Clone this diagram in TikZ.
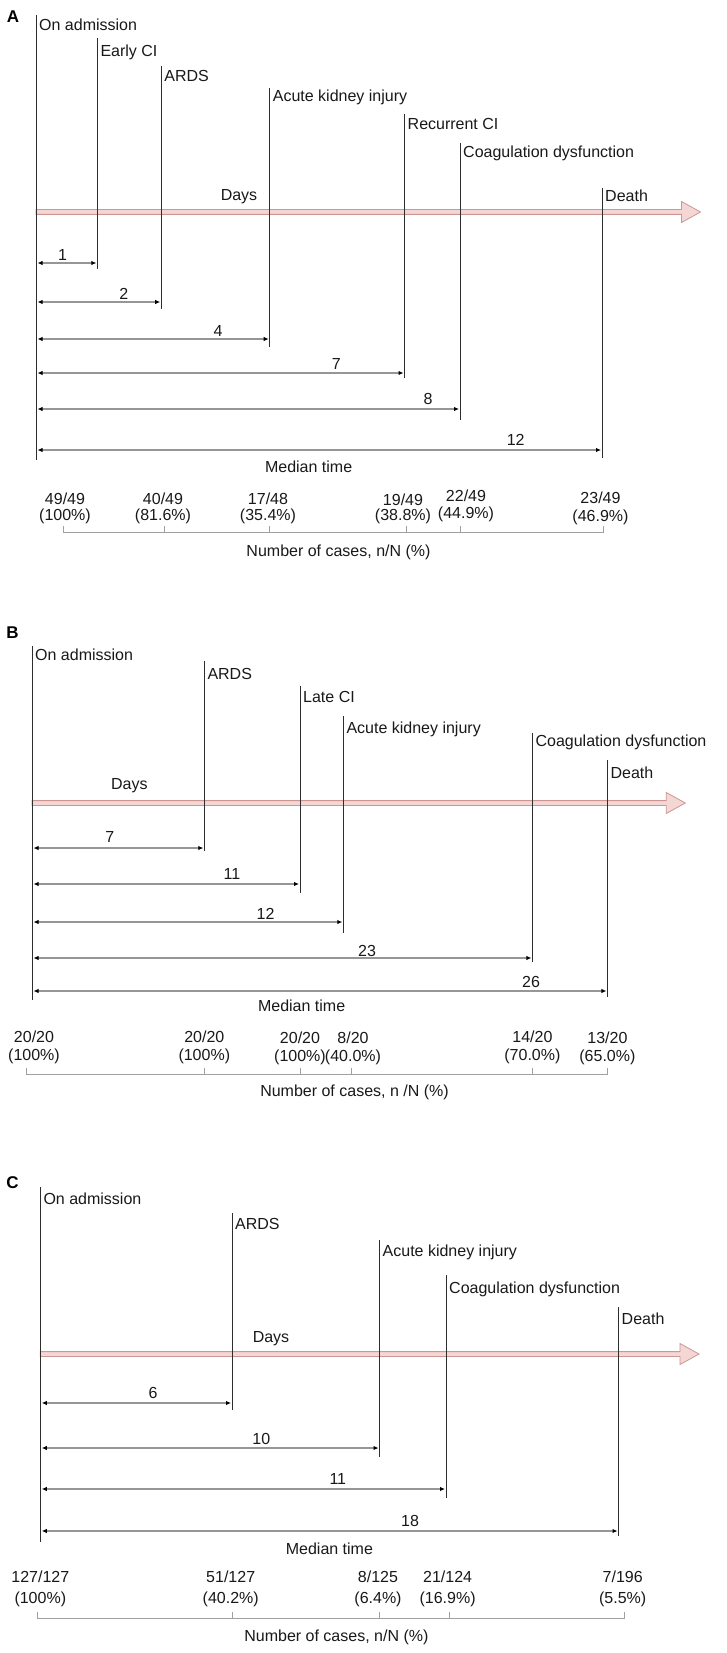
\documentclass[tikz,border=0pt]{standalone}
\usepackage{fontspec}
\setmainfont{Liberation Sans}
\usetikzlibrary{arrows.meta}
\definecolor{pinkfill}{RGB}{244,214,212}
\definecolor{pinkdraw}{RGB}{205,150,146}
\definecolor{txt}{RGB}{25,25,25}
\definecolor{mline}{RGB}{150,150,150}
\definecolor{bline}{RGB}{160,160,160}
\definecolor{eline}{RGB}{45,45,45}

\newcommand{\evt}[6]{%
  \coordinate (#1t) at (#2,#3);
  \coordinate (#1b) at (#2,#4);
  \draw[evline] (#1t) -- (#1b);
  \node[lbl,anchor=base west] (#1l) at (#2+3,#5+5.7) {#6};}
\newcommand{\msr}[7]{%
  \coordinate (#1s) at (#2+1.5,#4);
  \coordinate (#1e) at (#3-1,#4);
  \draw[meas] (#1s) -- (#1e);
  \node[lbl] (#1n) at (#5,#6) {#7};}
\newcommand{\cnt}[6]{%
  \node[lbl,anchor=base] (#1a) at (#2,#3) {#5};
  \node[lbl,anchor=base] (#1b) at (#2,#4) {#6};}
\newcommand{\pinkarr}[4]{%
  \draw[pinkarrow] (#2,#4-2.4) -- (#3-19,#4-2.4) -- (#3-19,#4-10.5) -- (#3,#4)
    -- (#3-19,#4+10.5) -- (#3-19,#4+2.4) -- (#2,#4+2.4) -- cycle;}

\begin{document}
\begin{tikzpicture}[x=1pt,y=-1pt,
  lbl/.style={inner sep=0pt,text=txt,font=\fontsize{16}{19}\selectfont},
  panel/.style={inner sep=0pt,text=black,font=\fontsize{17}{20}\selectfont\bfseries},
  evline/.style={draw=eline,line width=0.9pt},
  meas/.style={draw=mline,line width=1.2pt,{Latex[length=5pt,width=4.5pt,black]}-{Latex[length=5pt,width=4.5pt,black]}},
  brk/.style={draw=bline,line width=1pt},
  pinkarrow/.style={fill=pinkfill,draw=pinkdraw,line width=0.8pt,line join=miter}]
\useasboundingbox[fill=white] (0,0) rectangle (727,1653);

% ---------------- Panel A ----------------
\node[panel] (pA) at (13,17) {A};
\pinkarr{arrA}{36}{700.5}{212}
\evt{aAdm}{36}{15}{460}{25}{On admission}
\evt{aECI}{97.3}{38}{269}{50.5}{Early CI}
\evt{aARDS}{161.2}{66}{309}{76}{ARDS}
\evt{aAKI}{269.7}{88}{347}{96}{Acute kidney injury}
\evt{aRCI}{404.5}{114}{378}{124}{Recurrent CI}
\evt{aCoag}{460}{143}{420}{151.7}{Coagulation dysfunction}
\evt{aDeath}{602}{188}{458}{196}{Death}
\node[lbl] (aDays) at (239,197) {Days};
\msr{amA}{36}{97.3}{263}{62.5}{255}{1}
\msr{amB}{36}{161.2}{302}{123.7}{294}{2}
\msr{amC}{36}{269.7}{339}{218}{331}{4}
\msr{amD}{36}{404.5}{373}{336.4}{364}{7}
\msr{amE}{36}{460}{409}{428}{399}{8}
\msr{amF}{36}{602}{450}{515.7}{440}{12}
\node[lbl] (aMed) at (308.6,467) {Median time};
\cnt{acA}{65}{504}{520}{49/49}{(100\%)}
\cnt{acB}{163}{504}{520}{40/49}{(81.6\%)}
\cnt{acC}{268}{504}{520}{17/48}{(35.4\%)}
\cnt{acD}{403}{505}{520.5}{19/49}{(38.8\%)}
\cnt{acE}{466}{501.5}{518}{22/49}{(44.9\%)}
\cnt{acF}{600.5}{503.5}{521.5}{23/49}{(46.9\%)}
\draw[brk] (63,526) -- (63,532.5) -- (603,532.5) -- (603,526);
\foreach \x in {164,269,406,460} \draw[brk] (\x,532.5) -- (\x,526);
\node[lbl] (aNum) at (338.5,552) {Number of cases, n/N (\%)};

% ---------------- Panel B ----------------
\node[panel] (pB) at (12.5,633) {B};
\pinkarr{arrB}{32}{685.3}{803}
\evt{bAdm}{32}{646}{1000}{655}{On admission}
\evt{bARDS}{204.3}{661}{851}{674}{ARDS}
\evt{bLCI}{300}{686}{893}{697}{Late CI}
\evt{bAKI}{343.3}{716}{933}{728}{Acute kidney injury}
\evt{bCoag}{532.4}{733}{962}{741}{Coagulation dysfunction}
\evt{bDeath}{607.4}{760}{997}{773}{Death}
\node[lbl] (bDays) at (129.3,786) {Days};
\msr{bmA}{32}{204.3}{848}{109.8}{837}{7}
\msr{bmB}{32}{300}{884}{232}{874}{11}
\msr{bmC}{32}{343.3}{922}{265.5}{914}{12}
\msr{bmD}{32}{532.4}{958}{367}{951}{23}
\msr{bmE}{32}{607.4}{991}{531}{982}{26}
\node[lbl] (bMed) at (301.6,1006) {Median time};
\cnt{bcA}{34}{1042.7}{1060.5}{20/20}{(100\%)}
\cnt{bcB}{204.3}{1042.7}{1060.5}{20/20}{(100\%)}
\cnt{bcC}{300}{1043.5}{1061.5}{20/20}{(100\%)}
\cnt{bcD}{353}{1043.5}{1061.5}{8/20}{(40.0\%)}
\cnt{bcE}{532.4}{1042.7}{1060.5}{14/20}{(70.0\%)}
\cnt{bcF}{607.4}{1043.5}{1061.5}{13/20}{(65.0\%)}
\draw[brk] (26.4,1068) -- (26.4,1074) -- (607.4,1074) -- (607.4,1068);
\foreach \x in {204.3,300,351.7,532.4} \draw[brk] (\x,1074) -- (\x,1068);
\node[lbl] (bNum) at (354.5,1092) {Number of cases, n /N (\%)};

% ---------------- Panel C ----------------
\node[panel] (pC) at (12.5,1183) {C};
\pinkarr{arrC}{40.3}{699}{1354}
\evt{cAdm}{40.3}{1187}{1542}{1199}{On admission}
\evt{cARDS}{232}{1213}{1410}{1224}{ARDS}
\evt{cAKI}{379.5}{1240}{1457}{1251}{Acute kidney injury}
\evt{cCoag}{446}{1275}{1498}{1288}{Coagulation dysfunction}
\evt{cDeath}{618.5}{1307}{1536}{1319}{Death}
\node[lbl] (cDays) at (271,1339) {Days};
\msr{cmA}{40.3}{232}{1403}{153}{1393}{6}
\msr{cmB}{40.3}{379.5}{1448}{261.3}{1439}{10}
\msr{cmC}{40.3}{446}{1489}{337.8}{1479}{11}
\msr{cmD}{40.3}{618.5}{1531}{410}{1521}{18}
\node[lbl] (cMed) at (329.4,1549) {Median time};
\cnt{ccA}{40.3}{1582.7}{1603.5}{127/127}{(100\%)}
\cnt{ccB}{230.7}{1582.7}{1603.5}{51/127}{(40.2\%)}
\cnt{ccC}{378}{1582.7}{1603.5}{8/125}{(6.4\%)}
\cnt{ccD}{447.6}{1582.7}{1603.5}{21/124}{(16.9\%)}
\cnt{ccE}{622.7}{1582.7}{1603.5}{7/196}{(5.5\%)}
\draw[brk] (37.5,1612) -- (37.5,1618) -- (624,1618) -- (624,1612);
\foreach \x in {232,379.5,449} \draw[brk] (\x,1618) -- (\x,1612);
\node[lbl] (cNum) at (336.4,1637) {Number of cases, n/N (\%)};
\end{tikzpicture}
\end{document}
